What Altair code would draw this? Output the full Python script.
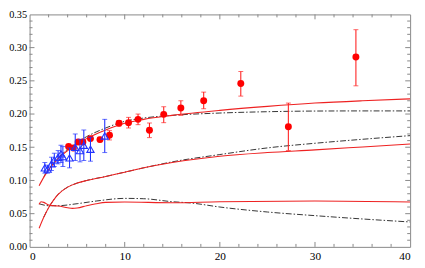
import altair as alt
import pandas as pd

# ---------------- data ----------------
red_x = [4.1, 4.6, 5.1, 5.6, 6.4, 7.4, 8.4, 9.4, 10.4, 11.4, 12.6, 14.1, 15.9, 18.3, 22.2, 27.2, 34.3]
red_y = [0.151, 0.149, 0.158, 0.158, 0.163, 0.1615, 0.168, 0.186, 0.187, 0.192, 0.1755, 0.1995, 0.209, 0.220, 0.246, 0.181, 0.286]
red_lo = [0.148, 0.146, 0.155, 0.155, 0.160, 0.158, 0.161, 0.182, 0.179, 0.184, 0.1645, 0.187, 0.198, 0.208, 0.227, 0.145, 0.2425]
red_hi = [0.154, 0.152, 0.161, 0.161, 0.166, 0.165, 0.175, 0.190, 0.195, 0.200, 0.1865, 0.211, 0.220, 0.233, 0.264, 0.2165, 0.327]

blue_x = [1.6, 1.9, 2.3, 2.6, 3.0, 3.3, 3.5, 4.2, 4.8, 5.3, 5.7, 6.4, 7.9]
blue_y = [0.119, 0.117, 0.125, 0.131, 0.135, 0.140, 0.136, 0.134, 0.150, 0.145, 0.153, 0.147, 0.167]
blue_err = [0.008, 0.006, 0.010, 0.010, 0.010, 0.013, 0.015, 0.015, 0.020, 0.017, 0.023, 0.018, 0.025]

up_red_x = [1, 1.5, 2, 2.5, 3, 4, 5, 6, 7, 8, 10, 12, 15, 20, 25, 30, 35, 40]
up_red_y = [0.092, 0.105, 0.116, 0.125, 0.133, 0.145, 0.155, 0.163, 0.170, 0.176, 0.186, 0.192, 0.198, 0.2055, 0.2115, 0.2165, 0.220, 0.2228]
up_blk_x = [1.5, 2, 2.5, 3, 4, 5, 6, 7, 8, 10, 12, 15, 20, 25, 30, 35, 40]
up_blk_y = [0.106, 0.117, 0.126, 0.134, 0.147, 0.157, 0.166, 0.173, 0.179, 0.189, 0.194, 0.198, 0.2015, 0.2035, 0.2045, 0.2047, 0.2047]

mid_red_x = [1, 1.5, 2, 2.5, 3, 4, 5, 6, 8, 10, 12, 15, 20, 25, 30, 35, 40]
mid_red_y = [0.028, 0.045, 0.059, 0.070, 0.079, 0.090, 0.096, 0.100, 0.106, 0.1125, 0.119, 0.127, 0.1365, 0.142, 0.146, 0.1505, 0.155]
mid_blk_x = [1.5, 2, 2.5, 3, 4, 5, 6, 8, 10, 12, 15, 20, 25, 30, 35, 40]
mid_blk_y = [0.045, 0.059, 0.070, 0.079, 0.090, 0.096, 0.100, 0.106, 0.1125, 0.119, 0.128, 0.139, 0.149, 0.156, 0.162, 0.1675]

low_red_x = [1, 1.2, 1.5, 2, 2.5, 3, 4, 4.5, 5, 6, 7, 8, 10, 15, 20, 30, 40]
low_red_y = [0.064, 0.068, 0.067, 0.063, 0.062, 0.0615, 0.059, 0.058, 0.0585, 0.062, 0.065, 0.067, 0.0675, 0.0665, 0.068, 0.069, 0.0675]
low_blk_x = [1, 2, 3, 5, 7, 10, 12, 15, 17, 20, 25, 30, 35, 40]
low_blk_y = [0.065, 0.062, 0.062, 0.065, 0.069, 0.073, 0.0725, 0.068, 0.066, 0.060, 0.0525, 0.047, 0.042, 0.0375]

x_major = [0, 10, 20, 30, 40]
x_minor = [2, 4, 6, 8, 12, 14, 16, 18, 22, 24, 26, 28, 32, 34, 36, 38]
y_labels = [0.0, 0.05, 0.10, 0.15, 0.20, 0.25, 0.30, 0.35]
y_minor = [0.01, 0.02, 0.03, 0.04, 0.06, 0.07, 0.08, 0.09, 0.11, 0.12, 0.13, 0.14,
           0.16, 0.17, 0.18, 0.19, 0.21, 0.22, 0.23, 0.24, 0.26, 0.27, 0.28, 0.29,
           0.31, 0.32, 0.33, 0.34]

# ---------------- chart ----------------
W, H = 388, 237
FONT = "Liberation Serif"
xs = alt.Scale(domain=[0, 40], nice=False, zero=False)
ys = alt.Scale(domain=[0, 0.35], nice=False)

xaxis = alt.Axis(values=x_major, format="d", ticks=False, grid=False, domain=False,
                 labelFont=FONT, labelFontSize=11.5, labelColor="black",
                 labelPadding=4, labelOverlap=False, title=None)
yaxis = alt.Axis(values=y_labels, format=".2f", ticks=False, grid=False,
                 domain=False, labelFont=FONT, labelFontSize=10.5, labelColor="black",
                 labelPadding=3, labelOverlap=False, title=None)


def XF(f):
    return alt.X(f + ":Q", scale=xs, axis=xaxis)


def YF(f):
    return alt.Y(f + ":Q", scale=ys, axis=yaxis)


DASHDOT = [6, 2, 1.5, 2]


def curve(xv, yv, color, dash=None, width=1.1):
    df = pd.DataFrame({"x": xv, "y": yv})
    kw = dict(color=color, strokeWidth=width, interpolate="monotone", clip=True)
    if dash:
        kw["strokeDash"] = dash
    return alt.Chart(df).mark_line(**kw).encode(x=XF("x"), y=YF("y"))


curves = [
    curve(low_blk_x, low_blk_y, "#333333", DASHDOT, 1.0),
    curve(mid_blk_x, mid_blk_y, "#333333", DASHDOT, 1.0),
    curve(up_blk_x, up_blk_y, "#333333", DASHDOT, 1.0),
    curve(low_red_x, low_red_y, "#ee2222"),
    curve(mid_red_x, mid_red_y, "#ee2222"),
    curve(up_red_x, up_red_y, "#ee2222"),
]

red_df = pd.DataFrame({"x": red_x, "y": red_y, "lo": red_lo, "hi": red_hi})
blue_df = pd.DataFrame({"x": blue_x, "y": blue_y,
                        "lo": [a - b for a, b in zip(blue_y, blue_err)],
                        "hi": [a + b for a, b in zip(blue_y, blue_err)]})


def errbars(df, color):
    base = alt.Chart(df)
    rule = base.mark_rule(color=color, strokeWidth=1.1).encode(
        x=XF("x"), y=YF("lo"), y2="hi:Q")
    cap_lo = base.mark_tick(color=color, orient="horizontal", size=5, thickness=1).encode(
        x=XF("x"), y=YF("lo"))
    cap_hi = base.mark_tick(color=color, orient="horizontal", size=5, thickness=1).encode(
        x=XF("x"), y=YF("hi"))
    return [rule, cap_lo, cap_hi]


red_pts = alt.Chart(red_df).mark_circle(color="#ff0000", size=50, opacity=1).encode(
    x=XF("x"), y=YF("y"))
blue_pts = alt.Chart(blue_df).mark_point(shape="triangle-up", filled=False, color="#2233ff",
                                         size=55, strokeWidth=1.1, opacity=1).encode(
    x=XF("x"), y=YF("y"))

# inward frame ticks
TICK = "#888888"


def xticks(vals, length):
    df = pd.DataFrame({"x": vals})
    b = alt.Chart(df).mark_rule(color=TICK, strokeWidth=1)
    return [b.encode(x=XF("x"), y=alt.value(H), y2=alt.value(H - length)),
            b.encode(x=XF("x"), y=alt.value(0), y2=alt.value(length))]


def yticks(vals, length):
    df = pd.DataFrame({"y": vals})
    b = alt.Chart(df).mark_rule(color=TICK, strokeWidth=1)
    return [b.encode(y=YF("y"), x=alt.value(0), x2=alt.value(length)),
            b.encode(y=YF("y"), x=alt.value(W), x2=alt.value(W - length))]


ticks = (xticks(x_major[1:-1], 5) + xticks(x_minor, 3) +
         yticks(y_labels[1:-1], 5) + yticks(y_minor, 3))

layers = ticks + curves + errbars(red_df, "#ff2222") + [red_pts] + errbars(blue_df, "#2233ff") + [blue_pts]

chart = alt.layer(*layers).properties(
    width=W, height=H,
    autosize=alt.AutoSizeParams(type="none"),
    padding={"left": 22, "top": 4, "right": 7, "bottom": 19},
    background="white",
).configure_view(stroke="#888888", strokeWidth=1)

chart.save("out.html", embed_options={"renderer": "svg", "actions": False})
